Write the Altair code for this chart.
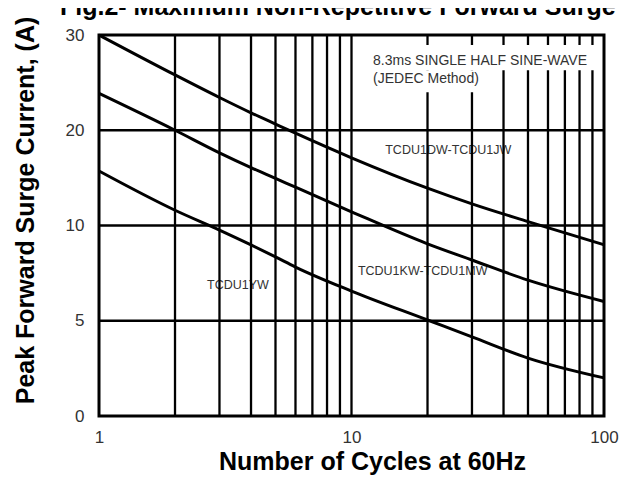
import altair as alt
import pandas as pd

# ---- data ----
cycles = [1, 2, 3, 4, 5, 6, 10, 20, 30, 50, 100]
curve_dw_jw = [30.0, 25.81, 23.44, 21.83, 20.65, 19.69, 17.11, 13.92, 12.27, 10.41, 8.99]
curve_kw_mw = [23.87, 20.0, 17.63, 16.08, 14.95, 14.02, 11.44, 9.04, 8.19, 7.13, 6.01]
curve_yw = [15.72, 11.6, 9.76, 8.98, 8.35, 7.82, 6.56, 5.04, 4.15, 3.04, 2.0]
series_names = ["TCDU1DW-TCDU1JW", "TCDU1KW-TCDU1MW", "TCDU1YW"]

x_grid = [2, 3, 4, 5, 6, 7, 8, 9, 10, 20, 30, 40, 50, 60, 70, 80, 90]
y_grid = [5, 10, 20]
y_ticks = [0, 5, 10, 20, 30]
x_ticks = [1, 10, 100]

label_text = ["TCDU1DW-TCDU1JW", "TCDU1KW-TCDU1MW", "TCDU1YW"]
label_x = [13.6, 10.6, 2.68]
label_y = [17.9, 7.63, 6.9]

note_lines = ["8.3ms SINGLE HALF SINE-WAVE", "(JEDEC Method)"]
note_x = [12.17, 12.17]
note_y = [26.84, 24.95]
# white backing boxes behind the note (cuts the grid lines)
box_x = [11.3, 11.3]
box_x2 = [93.0, 38.7]
box_y = [28.95, 26.3]
box_y2 = [26.3, 24.0]

title_text = "Fig.2- Maximum Non-Repetitive Forward Surge Current"
x_title = "Number of Cycles at 60Hz"
y_title = "Peak Forward Surge Current, (A)"

W, H = 505, 381
FONT = "Liberation Sans"

rows = []
for name, vals in zip(series_names, [curve_dw_jw, curve_kw_mw, curve_yw]):
    for c, v in zip(cycles, vals):
        rows.append({"series": name, "x": c, "y": v})
curves = pd.DataFrame(rows)
labels = pd.DataFrame({"t": label_text, "x": label_x, "y": label_y})
notes = pd.DataFrame({"t": note_lines, "x": note_x, "y": note_y})
boxes = pd.DataFrame({"x": box_x, "x2": box_x2, "y": box_y, "y2": box_y2})
vgrid = pd.DataFrame({"x": x_grid})
hgrid = pd.DataFrame({"y": y_grid})

xscale = alt.Scale(type="log", domain=[1, 100], nice=False)
yscale = alt.Scale(domain=y_ticks, range=[H, H * 0.75, H * 0.5, H * 0.25, 0],
                   nice=False, zero=False)

X = alt.X("x:Q", scale=xscale,
          axis=alt.Axis(values=x_ticks, grid=False, ticks=False, tickSize=0, domain=False,
                        labelFont=FONT, labelFontSize=17, labelColor="#333333",
                        labelBaseline="alphabetic", labelPadding=26,
                        title=x_title, titleFont=FONT, titleFontSize=25,
                        titleFontWeight="bold", titleColor="black",
                        titleBaseline="alphabetic", titleX=273, titleY=53,
                        labelFlush=False, labelOverlap=False))
Y = alt.Y("y:Q", scale=yscale,
          axis=alt.Axis(values=y_ticks, grid=False, ticks=False, tickSize=0, domain=False,
                        labelFont=FONT, labelFontSize=17, labelColor="#333333",
                        labelPadding=15, labelOverlap=False,
                        title=y_title, titleFont=FONT, titleFontSize=25,
                        titleFontWeight="bold", titleColor="black",
                        titleBaseline="alphabetic", titleX=-66, titleY=175,
                        titleAngle=270))

lab = alt.Chart(labels).mark_text(align="left", baseline="middle", font=FONT,
                                  fontSize=12.5, color="#333333").encode(x=X, y=Y, text="t:N")
vrules = alt.Chart(vgrid).mark_rule(color="black", strokeWidth=2.3).encode(x=X)
hrules = alt.Chart(hgrid).mark_rule(color="black", strokeWidth=2.3).encode(y=Y)
bx = alt.Chart(boxes).mark_rect(color="white").encode(x=X, x2="x2:Q", y=Y, y2="y2:Q")
nt = alt.Chart(notes).mark_text(align="left", baseline="alphabetic", font=FONT,
                                fontSize=14, color="#333333").encode(x=X, y=Y, text="t:N")
ln = alt.Chart(curves).mark_line(color="black", strokeWidth=3, interpolate="monotone").encode(
    x=X, y=Y, detail="series:N")
ttl = alt.Chart(pd.DataFrame({"t": [title_text]})).mark_text(
    align="left", baseline="alphabetic", font=FONT, fontSize=25, fontWeight="bold",
    color="black").encode(x=alt.value(-39), y=alt.value(-20), text="t:N")

chart = alt.layer(lab, vrules, hrules, bx, nt, ln, ttl).properties(
    width=W, height=H,
    autosize=alt.AutoSizeParams(type="none"),
    padding={"left": 91, "top": 27, "right": 19, "bottom": 62},
    background="white",
).configure_view(stroke="black", strokeWidth=3)

chart.save("out.html", embed_options={"renderer": "svg", "actions": False})
